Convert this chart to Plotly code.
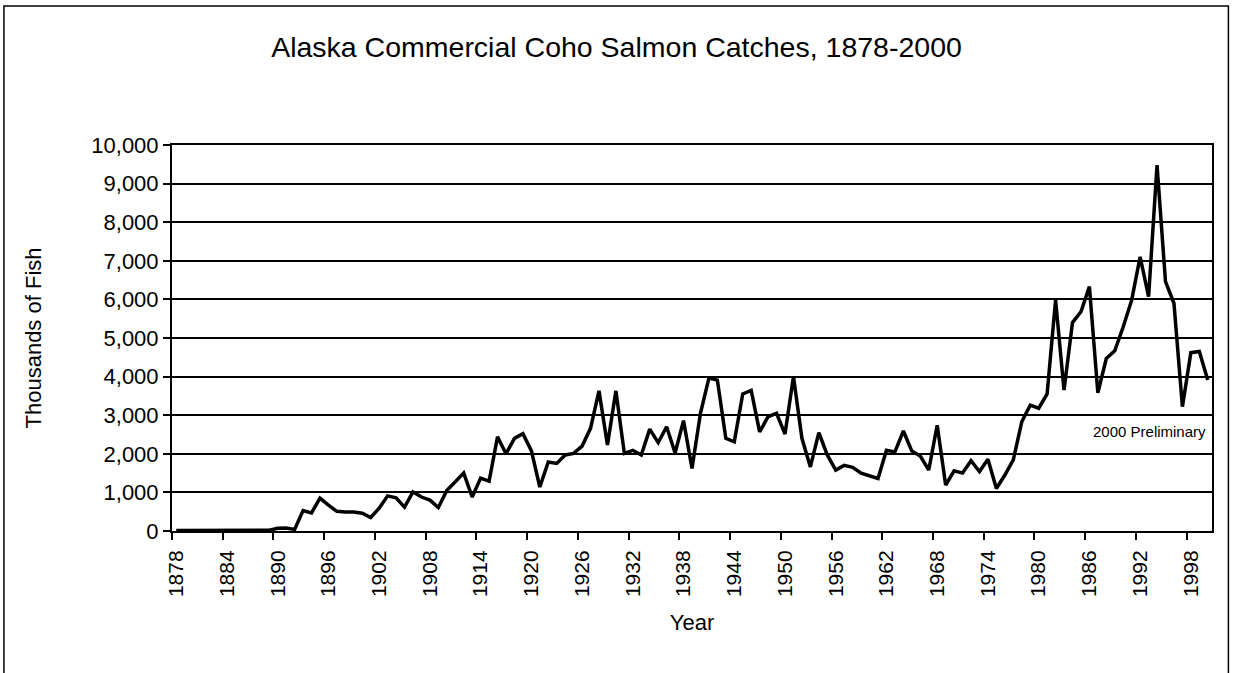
import plotly.graph_objects as go

# ---- data (thousands of fish) ----
years = [str(y) for y in range(1878, 2001)]
catch = [
    10, 10, 10, 10, 10, 10, 10, 10, 10, 10,          # 1878-1887
    10, 20, 70, 80, 40, 530, 470, 850, 670, 510,      # 1888-1897
    490, 490, 460, 350, 590, 910, 860, 620, 1010, 880,  # 1898-1907
    800, 610, 1050, 1280, 1500, 880, 1370, 1290, 2440, 2000,  # 1908-1917
    2400, 2520, 2080, 1140, 1790, 1750, 1970, 2010, 2200, 2660,  # 1918-1927
    3630, 2230, 3630, 2010, 2090, 1970, 2640, 2290, 2700, 2020,  # 1928-1937
    2860, 1620, 3050, 3960, 3910, 2400, 2310, 3550, 3640, 2570,  # 1938-1947
    2960, 3050, 2510, 4000, 2400, 1660, 2550, 1970, 1580, 1700,  # 1948-1957
    1650, 1500, 1430, 1360, 2090, 2050, 2590, 2070, 1940, 1580,  # 1958-1967
    2740, 1190, 1560, 1500, 1820, 1540, 1860, 1100, 1450, 1840,  # 1968-1977
    2830, 3260, 3180, 3550, 5980, 3650, 5400, 5680, 6330, 3580,  # 1978-1987
    4470, 4670, 5290, 5980, 7100, 6070, 9480, 6460, 5900, 3220,  # 1988-1997
    4620, 4650, 3910,                                  # 1998-2000
]
assert len(catch) == len(years)

title_text = "Alaska Commercial Coho Salmon Catches, 1878-2000"
note_text = "2000 Preliminary"

FONT = "Liberation Sans, Arial, sans-serif"

fig = go.Figure(go.Scatter(
    x=years, y=catch, mode="lines",
    line=dict(color="black", width=3.5),
    showlegend=False, hoverinfo="x+y",
))

# plot area in pixels: x 172..1211.6, y 145..531
L, R, T, B = 172, 1211.6, 145, 531
W, H = 1233, 673
pw, ph = R - L, B - T

def px(xp):
    return (xp - L) / pw

def py(yp):
    return (B - yp) / ph

fig.update_layout(
    width=W, height=H,
    margin=dict(l=L, r=W - R, t=T, b=H - B),
    paper_bgcolor="white", plot_bgcolor="white",
    font=dict(family=FONT, size=22, color="black"),
    title=dict(text=title_text, x=0.5, xanchor="center",
               y=1 - 47 / H, yanchor="middle",
               font=dict(size=28.5)),
    xaxis=dict(
        type="category", tickmode="linear", tick0=0, dtick=6,
        tickson="boundaries", ticks="outside", ticklen=7, tickwidth=1.8,
        tickcolor="black", tickangle=-90, ticklabelstandoff=9,
        showline=True, linecolor="black", linewidth=2, mirror=True,
        showgrid=False, range=[-0.5, len(years) - 0.5],
        title=dict(text="Year", standoff=18, font=dict(size=22)),
        tickfont=dict(size=21),
    ),
    yaxis=dict(
        range=[0, 10000], tickmode="linear", tick0=0, dtick=1000,
        tickformat=",d", ticks="outside", ticklen=7, tickwidth=1.8,
        tickcolor="black",
        showline=True, linecolor="black", linewidth=2, mirror=True,
        showgrid=True, gridcolor="black", gridwidth=1.6,
        zeroline=False,
        title=dict(text="Thousands of Fish", standoff=44, font=dict(size=22)),
        tickfont=dict(size=22),
    ),
    annotations=[dict(
        text=note_text, xref="paper", yref="y",
        x=px(1208), y=2590, xanchor="right", yanchor="middle",
        showarrow=False, font=dict(size=15, color="black"),
    )],
    shapes=[dict(
        type="rect", xref="paper", yref="paper",
        x0=px(4), x1=px(1228), y0=py(690), y1=py(6),
        line=dict(color="black", width=1.5), fillcolor="rgba(0,0,0,0)",
        layer="below",
    )],
)

# the page body has a default 8px margin; remove it so pixels line up
fig.write_html("out.html", config={"displayModeBar": False},
               post_script="document.body.style.margin='0';")
